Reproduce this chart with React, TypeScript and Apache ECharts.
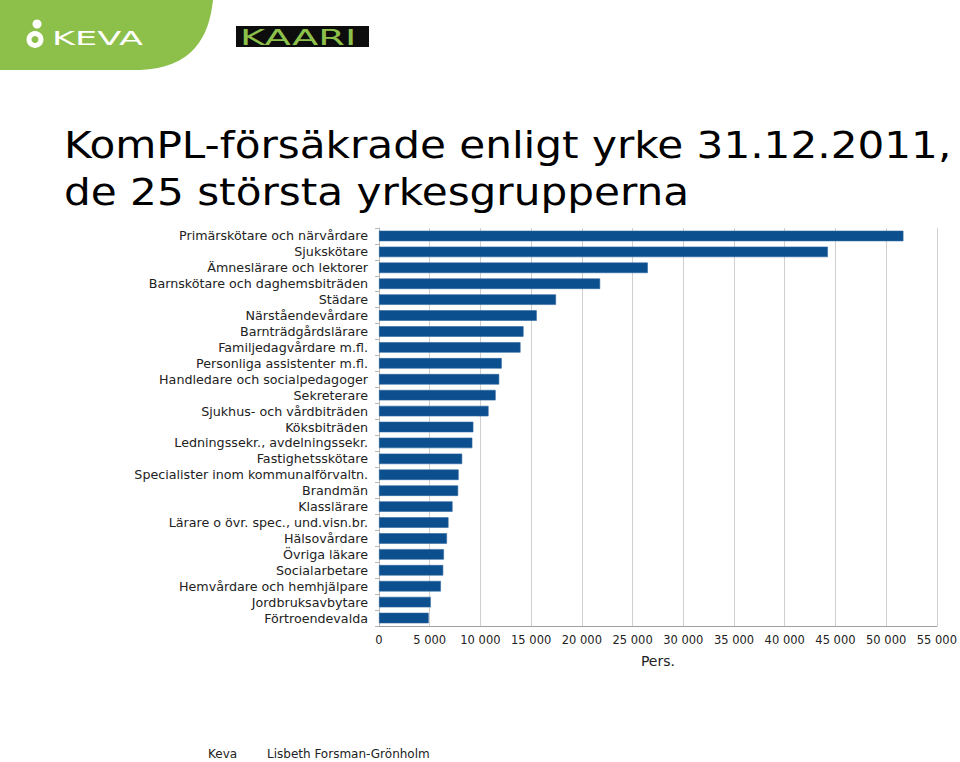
import React, { useEffect, useRef } from "react";
import * as echarts from "echarts";

const categories = [
  "Primärskötare och närvårdare",
  "Sjukskötare",
  "Ämneslärare och lektorer",
  "Barnskötare och daghemsbiträden",
  "Städare",
  "Närståendevårdare",
  "Barnträdgårdslärare",
  "Familjedagvårdare m.fl.",
  "Personliga assistenter m.fl.",
  "Handledare och socialpedagoger",
  "Sekreterare",
  "Sjukhus- och vårdbiträden",
  "Köksbiträden",
  "Ledningssekr., avdelningssekr.",
  "Fastighetsskötare",
  "Specialister inom kommunalförvaltn.",
  "Brandmän",
  "Klasslärare",
  "Lärare o övr. spec., und.visn.br.",
  "Hälsovårdare",
  "Övriga läkare",
  "Socialarbetare",
  "Hemvårdare och hemhjälpare",
  "Jordbruksavbytare",
  "Förtroendevalda",
];

const persons = [
  51700, 44250, 26500, 21800, 17450, 15550, 14250, 13950, 12100, 11850, 11500,
  10800, 9300, 9200, 8200, 7850, 7800, 7250, 6850, 6700, 6400, 6330, 6100,
  5100, 4900,
];

const xTicks = { min: 0, max: 55000, interval: 5000 };
const titleLines = ["KomPL-försäkrade enligt yrke 31.12.2011,", "de 25 största yrkesgrupperna"];
const axisName = "Pers.";
const footer = ["Keva", "Lisbeth Forsman-Grönholm"];

echarts.graphic.registerShape(
  "kevaBanner",
  echarts.graphic.extendPath("M0 0 L213 0 C209 38 192 68 140 70 L0 70 Z", {})
);

export default function App() {
  const ref = useRef<HTMLDivElement>(null);
  useEffect(() => {
    if (!ref.current) return;
    const chart = echarts.init(ref.current, null, { renderer: "svg" });
    const font = "'DejaVu Sans', Verdana, sans-serif";
    chart.setOption({
      animation: false,
      backgroundColor: "#ffffff",
      grid: { left: 379, right: 22, top: 228, bottom: 136, containLabel: false },
      xAxis: {
        type: "value",
        min: xTicks.min,
        max: xTicks.max,
        interval: xTicks.interval,
        name: axisName,
        nameLocation: "middle",
        nameGap: 28,
        nameTextStyle: { fontFamily: font, fontSize: 14, color: "#222" },
        axisLine: { show: true, lineStyle: { color: "#a0a0a0", width: 1 } },
        axisTick: { show: false },
        axisLabel: {
          fontFamily: font,
          fontSize: 11.5,
          color: "#222",
          margin: 8,
          formatter: (v: number) => String(v).replace(/\B(?=(\d{3})+(?!\d))/g, " "),
        },
        splitLine: { show: true, lineStyle: { color: "#cfcfcf", width: 1 } },
      },
      yAxis: {
        type: "category",
        inverse: true,
        data: categories,
        axisLine: { show: true, lineStyle: { color: "#b8b8b8", width: 1 } },
        axisTick: { show: true, length: 4, lineStyle: { color: "#b8b8b8" } },
        axisLabel: {
          interval: 0,
          hideOverlap: false,
          fontFamily: font,
          fontSize: 12.7,
          color: "#222",
          margin: 11,
        },
      },
      series: [
        {
          type: "bar",
          data: persons,
          barCategoryGap: "34%",
          itemStyle: { color: "#0b4f8e", borderColor: "#2f66a0", borderWidth: 0.6 },
        },
      ],
      graphic: [
        {
          type: "kevaBanner",
          x: 0,
          y: 0,
          style: { fill: "#8dc04b" },
        },
        { type: "circle", shape: { cx: 37, cy: 24, r: 4.5 }, style: { fill: "#ffffff" } },
        { type: "ring", shape: { cx: 35, cy: 39.5, r: 8.5, r0: 3.5 }, style: { fill: "#ffffff" } },
        {
          type: "text",
          x: 52,
          y: 39,
          scaleX: 1.85,
          style: {
            text: "KEVA",
            fill: "#ffffff",
            font: "19px 'DejaVu Sans', sans-serif",
            verticalAlign: "middle",
          },
        },
        { type: "rect", shape: { x: 236, y: 26, width: 133, height: 21 }, style: { fill: "#0d0d0d" } },
        {
          type: "text",
          x: 240,
          y: 37,
          scaleX: 1.75,
          style: {
            text: "KAARI",
            fill: "#8dc04b",
            font: "22px 'DejaVu Sans', sans-serif",
            verticalAlign: "middle",
          },
        },
        {
          type: "text",
          x: 64,
          y: 145,
          scaleX: 1.11,
          style: {
            text: titleLines[0],
            fill: "#000000",
            font: "38px 'DejaVu Sans', Verdana, sans-serif",
            verticalAlign: "middle",
          },
        },
        {
          type: "text",
          x: 64,
          y: 192,
          scaleX: 1.11,
          style: {
            text: titleLines[1],
            fill: "#000000",
            font: "38px 'DejaVu Sans', Verdana, sans-serif",
            verticalAlign: "middle",
          },
        },
        {
          type: "text",
          x: 208,
          y: 754,
          style: { text: footer[0], fill: "#222", font: "12px 'DejaVu Sans', Verdana, sans-serif", verticalAlign: "middle" },
        },
        {
          type: "text",
          x: 267,
          y: 754,
          style: { text: footer[1], fill: "#222", font: "12px 'DejaVu Sans', Verdana, sans-serif", verticalAlign: "middle" },
        },
      ],
    });
    return () => chart.dispose();
  }, []);
  return (
    <div
      ref={ref}
      style={{ position: "fixed", left: 0, top: 0, width: 960, height: 762 }}
    />
  );
}
